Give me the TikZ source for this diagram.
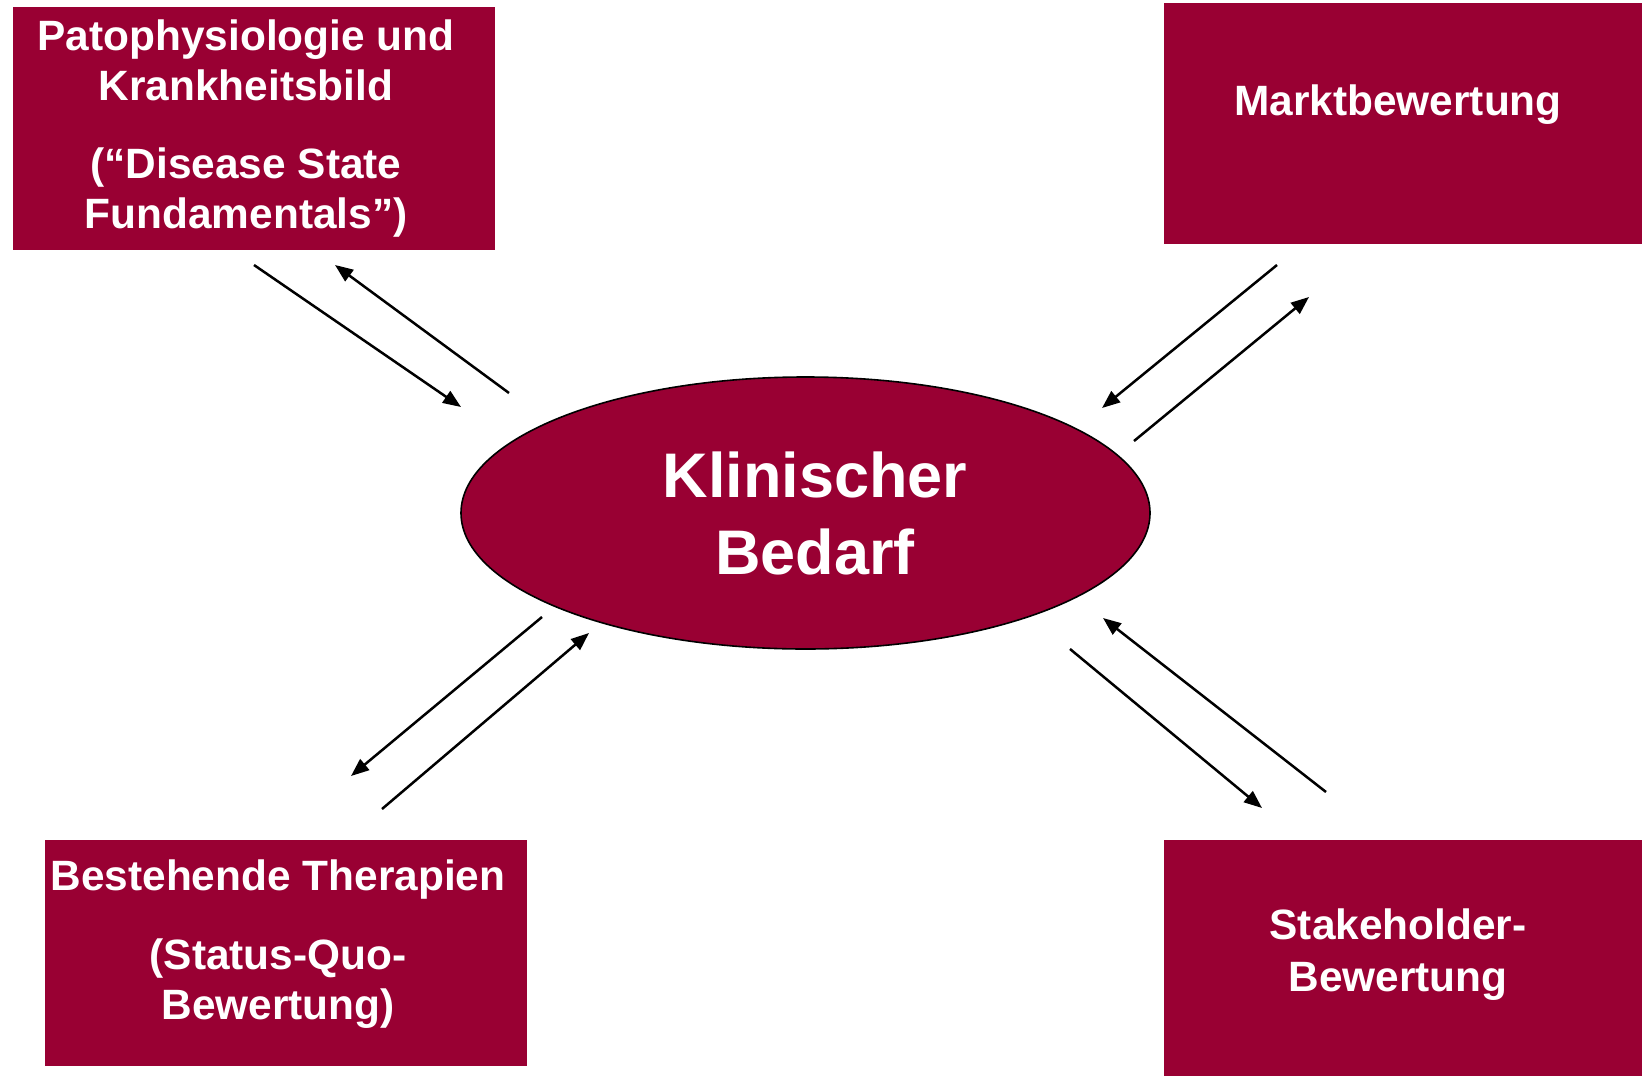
\documentclass[tikz,border=0pt]{standalone}
\usepackage{fontspec}
\setmainfont{Liberation Sans}
\usetikzlibrary{arrows.meta,shapes.geometric}
\definecolor{wine}{HTML}{990033}
\tikzset{
  box/.style={draw=none, fill=wine, inner sep=0pt},
  txt/.style={text=white, inner sep=0pt, anchor=base, font=\fontsize{21.2}{25}\selectfont\bfseries},
  bigtxt/.style={text=white, inner sep=0pt, anchor=base, font=\fontsize{31.5}{38}\selectfont\bfseries},
  arr/.style={line width=1.25pt, -{Triangle[length=9pt,width=7pt]}},
}
\begin{document}
\begin{tikzpicture}[x=0.5pt,y=-0.5pt]
\useasboundingbox (0,0) rectangle (1642,1076);
% boxes
\node[box, minimum width=241pt, minimum height=121.5pt] (tl) at (254,128.5) {};
\node[box, minimum width=239pt, minimum height=120.5pt] (tr) at (1403,123.5) {};
\node[box, minimum width=241pt, minimum height=113pt] (bl) at (286,953) {};
\node[box, minimum width=239pt, minimum height=118pt] (br) at (1403,958) {};
% ellipse
\node[draw=black, line width=0.8pt, fill=wine, ellipse, minimum width=344.5pt, minimum height=136pt, inner sep=0pt] (kb) at (805.5,513) {};
% texts
\node[txt] (tl1) at (246,50) {Patophysiologie und};
\node[txt] (tl2) at (246,100.5) {Krankheitsbild};
\node[txt] (tl3) at (246,178) {(“Disease State};
\node[txt] (tl4) at (246,228) {Fundamentals”)};
\node[txt] (tr1) at (1398,115) {Marktbewertung};
\node[txt] (bl1) at (278,890) {Bestehende Therapien};
\node[txt] (bl2) at (278,969) {(Status-Quo-};
\node[txt] (bl3) at (278,1019) {Bewertung)};
\node[txt] (br1) at (1398,939) {Stakeholder-};
\node[txt] (br2) at (1398,991) {Bewertung};
\node[bigtxt] (kb1) at (815,497) {Klinischer};
\node[bigtxt] (kb2) at (815,574) {Bedarf};
% arrow endpoints
\coordinate (a1s) at (254,265); \coordinate (a1e) at (461,407);
\coordinate (a2s) at (509,393); \coordinate (a2e) at (335,265);
\coordinate (a3s) at (1277,265); \coordinate (a3e) at (1102,408);
\coordinate (a4s) at (1134,441); \coordinate (a4e) at (1309,297);
\coordinate (a5s) at (542,617); \coordinate (a5e) at (351,776);
\coordinate (a6s) at (382,809); \coordinate (a6e) at (589,633);
\coordinate (a7s) at (1070,649); \coordinate (a7e) at (1262,808);
\coordinate (a8s) at (1326,792); \coordinate (a8e) at (1103,618);
\draw[arr] (a1s) -- (a1e);
\draw[arr] (a2s) -- (a2e);
\draw[arr] (a3s) -- (a3e);
\draw[arr] (a4s) -- (a4e);
\draw[arr] (a5s) -- (a5e);
\draw[arr] (a6s) -- (a6e);
\draw[arr] (a7s) -- (a7e);
\draw[arr] (a8s) -- (a8e);
\end{tikzpicture}
\end{document}
